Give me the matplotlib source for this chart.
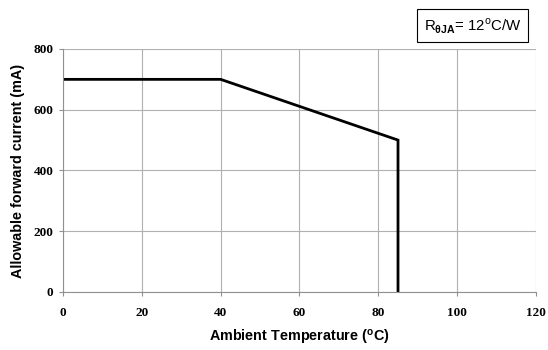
import matplotlib
matplotlib.use("Agg")
import matplotlib.pyplot as plt

temps = [0, 40, 85, 85]
currents = [700, 700, 500, 0]
x_ticks = [0, 20, 40, 60, 80, 100, 120]
y_ticks = [0, 200, 400, 600, 800]

plt.rcParams['font.family'] = ['Liberation Sans', 'DejaVu Sans']
plt.rcParams['mathtext.fontset'] = 'custom'
plt.rcParams['mathtext.rm'] = 'Liberation Sans'
plt.rcParams['mathtext.bf'] = 'Liberation Sans:bold'

fig = plt.figure(figsize=(5.48, 3.5), dpi=100)
ax = fig.add_axes([0.115, 0.166, 0.863, 0.694])
ax.plot(temps, currents, color='black', lw=2.0, solid_joinstyle='miter')
ax.set_xlim(0, 120)
ax.set_ylim(0, 800)
ax.set_xticks(x_ticks)
ax.set_yticks(y_ticks)
ax.grid(True, color='#b0b0b0', lw=0.8)
ax.set_axisbelow(True)
for s in ['top', 'right']:
    ax.spines[s].set_visible(False)
for s in ['left', 'bottom']:
    ax.spines[s].set_color('#909090')
    ax.spines[s].set_linewidth(0.8)
ax.tick_params(direction='out', length=3, color='#909090', width=0.8,
               labelsize=9.5, labelfontfamily='Liberation Serif')
ax.tick_params(axis='x', pad=8)
ax.tick_params(axis='y', pad=4)
for lbl in ax.get_xticklabels() + ax.get_yticklabels():
    lbl.set_fontweight('bold')
ax.set_xlabel('Ambient Temperature ($^{\\mathbf{o}}$C)', fontsize=10.4, fontweight='bold', labelpad=6)
ax.set_ylabel('Allowable forward current (mA)', fontsize=10.4, fontweight='bold', labelpad=6)
fig.text(0.862, 0.926, 'R$_{\\mathbf{\\theta JA}}$= 12$^{\\mathrm{o}}$C/W', fontsize=10.8,
         ha='center', va='center',
         bbox=dict(boxstyle='square,pad=0.45', fc='white', ec='black', lw=0.8))
fig.savefig('out.png', dpi=100)
